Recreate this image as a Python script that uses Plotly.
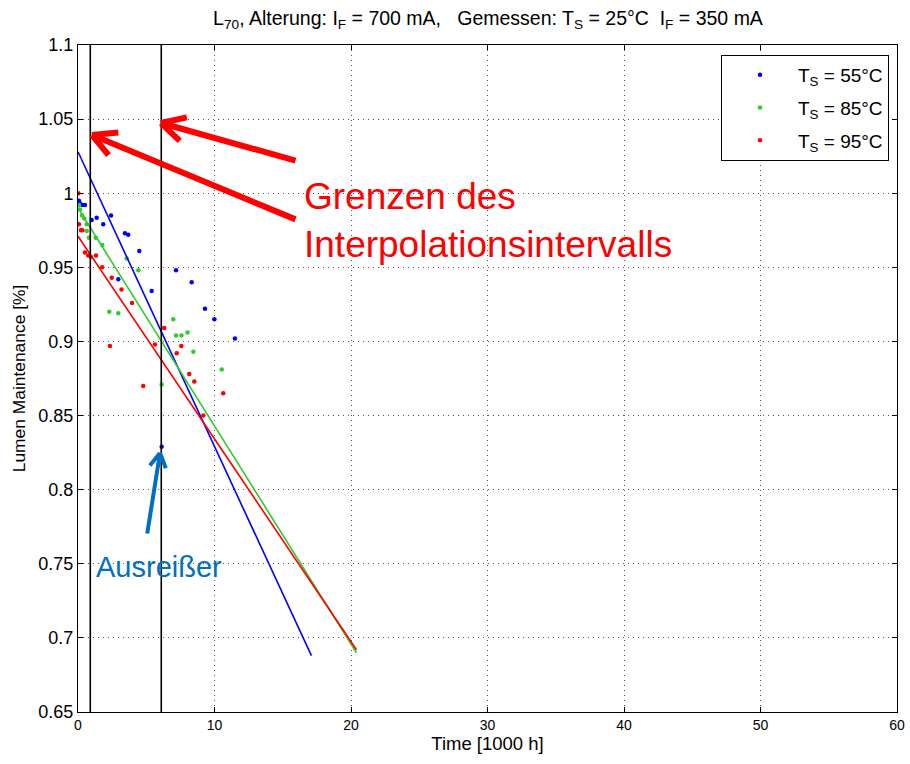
import math
import plotly.graph_objects as go

# ---------------- data ----------------
blue_x = [0.07, 0.15, 0.32, 0.51, 1.0, 1.37, 1.85, 2.42, 2.95, 3.44, 3.68, 4.49, 5.4, 6.13, 7.18, 8.33, 9.3, 9.99, 11.5]
blue_y = [0.995, 0.993, 0.992, 0.992, 0.982, 0.9835, 0.979, 0.985, 0.942, 0.973, 0.972, 0.961, 0.934, 0.829, 0.948, 0.940, 0.922, 0.915, 0.902]

green_x = [0.07, 0.15, 0.3, 0.46, 0.64, 0.64, 0.8, 1.3, 1.78, 2.29, 2.95, 3.57, 4.42, 6.13, 6.98, 7.18, 7.58, 8.02, 8.45, 10.53]
green_y = [0.992, 0.989, 0.985, 0.983, 0.979, 0.9745, 0.970, 0.970, 0.965, 0.920, 0.919, 0.956, 0.948, 0.871, 0.915, 0.904, 0.904, 0.906, 0.893, 0.881]

red_x = [0.03, 0.07, 0.22, 0.32, 0.51, 0.75, 0.95, 1.32, 1.77, 2.47, 3.19, 3.96, 2.34, 4.78, 5.64, 6.32, 7.57, 7.23, 8.15, 8.52, 10.64, 9.18]
red_y = [1.0, 0.979, 0.975, 0.975, 0.960, 0.958, 0.957, 0.958, 0.950, 0.943, 0.935, 0.926, 0.897, 0.870, 0.898, 0.909, 0.897, 0.892, 0.878, 0.873, 0.865, 0.850]

fit_blue_x = [0.0, 17.1]
fit_blue_y = [1.028, 0.688]
fit_green_x = [0.0, 20.4]
fit_green_y = [0.990, 0.690]
fit_red_x = [0.0, 20.4]
fit_red_y = [0.971, 0.692]

interval_bounds = [0.9, 6.1]

legend_labels = ["T<sub>S</sub> = 55°C", "T<sub>S</sub> = 85°C", "T<sub>S</sub> = 95°C"]
colors = ["#0000FF", "#2ECC2E", "#FF0000"]

x_ticks = [0, 10, 20, 30, 40, 50, 60]
y_ticks = [0.65, 0.7, 0.75, 0.8, 0.85, 0.9, 0.95, 1.0, 1.05, 1.1]
y_tick_text = ["0.65", "0.7", "0.75", "0.8", "0.85", "0.9", "0.95", "1", "1.05", "1.1"]

# ---------------- figure ----------------
W, H = 910, 764
ML, MR, MT, MB = 78, 13, 45, 52
XR = [0, 60]
YR = [0.65, 1.1]
REG = "Liberation Sans, Arial"

fig = go.Figure()

for i, (xs, ys, name, col) in enumerate([(blue_x, blue_y, legend_labels[0], colors[0]),
                                         (green_x, green_y, legend_labels[1], colors[1]),
                                         (red_x, red_y, legend_labels[2], colors[2])]):
    fig.add_trace(go.Scatter(x=xs, y=ys, mode="markers", name=name, legendgroup=f"g{i}",
                             marker=dict(color=col, size=4.5)))

for xs, ys, col in [(fit_blue_x, fit_blue_y, colors[0]),
                    (fit_green_x, fit_green_y, colors[1]),
                    (fit_red_x, fit_red_y, colors[2])]:
    fig.add_trace(go.Scatter(x=xs, y=ys, mode="lines", showlegend=False,
                             line=dict(color=col, width=1.6), hoverinfo="skip"))

for xb in interval_bounds:
    fig.add_trace(go.Scatter(x=[xb, xb], y=YR, mode="lines", showlegend=False,
                             line=dict(color="black", width=1.6), hoverinfo="skip"))

# --- arrows (pixel-based chevrons) ---
pw = W - ML - MR
ph = H - MT - MB


def px2data(px, py):
    x = XR[0] + (px - ML) / pw * (XR[1] - XR[0])
    y = YR[1] - (py - MT) / ph * (YR[1] - YR[0])
    return x, y


def arrow(tip, tail, color, width, arm_len, arm_ang):
    tx, ty = px2data(*tip)
    dx, dy = tail[0] - tip[0], tail[1] - tip[1]
    fig.add_annotation(x=tx, y=ty, ax=dx, ay=dy, axref="pixel", ayref="pixel",
                       text="", showarrow=True, arrowhead=0, arrowwidth=width,
                       arrowcolor=color)
    ang = math.atan2(dy, dx)
    for s in (-1, 1):
        a = ang + s * math.radians(arm_ang)
        fig.add_annotation(x=tx, y=ty, ax=arm_len * math.cos(a), ay=arm_len * math.sin(a),
                           axref="pixel", ayref="pixel", text="", showarrow=True,
                           arrowhead=0, arrowwidth=width, arrowcolor=color)


arrow((161, 123), (297, 161), "#FF0000", 6, 28, 28)
arrow((92, 135), (297, 220), "#FF0000", 6, 28, 28)
arrow((160, 453), (147, 535), "#0070C0", 4, 18, 30)

fig.add_annotation(xref="paper", yref="paper", x=(302 - ML) / pw, y=1 - (220 - MT) / ph,
                   text="Grenzen des<br>Interpolationsintervalls", showarrow=False,
                   xanchor="left", yanchor="middle", align="left",
                   font=dict(family=REG, size=37, color="#FF0000"))
fig.add_annotation(xref="paper", yref="paper", x=(94 - ML) / pw, y=1 - (567 - MT) / ph,
                   text="Ausreißer", showarrow=False, xanchor="left", yanchor="middle",
                   font=dict(family=REG, size=29, color="#0070C0"))

axis_common = dict(showline=True, linecolor="black", linewidth=1, mirror="allticks",
                   ticks="inside", ticklen=5, tickcolor="black",
                   showgrid=True, gridcolor="#555555", griddash="1px,4px", gridwidth=1,
                   zeroline=False, automargin=False)

fig.update_layout(
    width=W, height=H,
    margin=dict(l=ML, r=MR, t=MT, b=MB, autoexpand=False),
    paper_bgcolor="white", plot_bgcolor="white",
    font=dict(family=REG, color="black", size=13),
    title=dict(text="L<sub>70</sub>, Alterung: I<sub>F</sub> = 700 mA,   Gemessen: T<sub>S</sub> = 25°C  I<sub>F</sub> = 350 mA",
               x=488 / W, xanchor="center", y=1 - 18 / H, yanchor="middle",
               font=dict(family=REG, size=19.5)),
    xaxis=dict(range=XR, tickvals=x_ticks,
               title=dict(text="Time [1000 h]", standoff=5, font=dict(family=REG, size=18.5)),
               tickfont=dict(family=REG, size=14), **axis_common),
    yaxis=dict(range=YR, tickvals=y_ticks, ticktext=y_tick_text,
               title=dict(text="Lumen Maintenance [%]", standoff=8,
                          font=dict(family=REG, size=17.4)),
               tickfont=dict(family=REG, size=18), **axis_common),
    legend=dict(x=(889 - ML) / pw, y=1 - (55 - MT) / ph, xanchor="right", yanchor="top",
                bgcolor="white", bordercolor="black", borderwidth=1,
                font=dict(family=REG, size=19), itemwidth=66, tracegroupgap=5),
    showlegend=True,
)

fig.write_html("out.html", post_script="document.body.style.margin='0px';",
               config={"displayModeBar": False})
